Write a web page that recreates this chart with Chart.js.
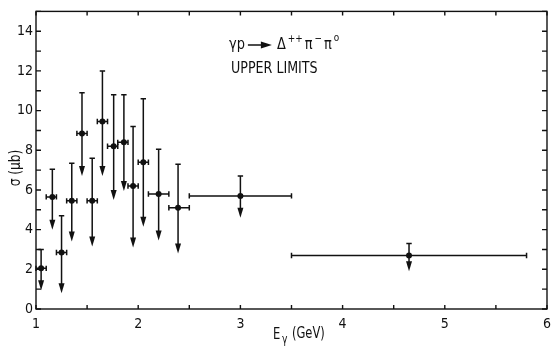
<!DOCTYPE html>
<html>
<head>
<meta charset="utf-8">
<script src="https://cdn.jsdelivr.net/npm/chart.js@4.4.0/dist/chart.umd.min.js"></script>
<style>
  html, body { margin: 0; padding: 0; background: #fff; }
</style>
</head>
<body>
<canvas id="sigmaChart" width="558" height="347"></canvas>
<script>
// photon energy of each point (GeV) and the edges of its energy bin
var energy  = [1.05, 1.16, 1.25, 1.35, 1.45, 1.55, 1.65, 1.76, 1.86, 1.95, 2.05, 2.20, 2.39, 3.00, 4.65];
var binLow  = [1.00, 1.10, 1.20, 1.30, 1.40, 1.50, 1.60, 1.70, 1.80, 1.90, 2.00, 2.10, 2.30, 2.50, 3.50];
var binHigh = [1.10, 1.20, 1.30, 1.40, 1.50, 1.60, 1.70, 1.80, 1.90, 2.00, 2.10, 2.30, 2.50, 3.50, 5.80];
// cross section (microbarn), top of the error bar, tip of the arrow
var sigma    = [2.05, 5.65, 2.85, 5.45, 8.85, 5.45, 9.45, 8.20, 8.40, 6.20, 7.40, 5.80, 5.10, 5.70, 2.70];
var upperEnd = [3.00, 7.05, 4.70, 7.35, 10.9, 7.60, 12.0, 10.8, 10.8, 9.20, 10.6, 8.05, 7.30, 6.70, 3.30];
var arrowEnd = [0.95, 4.00, 0.80, 3.40, 6.70, 3.15, 6.70, 5.50, 5.95, 3.10, 4.15, 3.45, 2.80, 4.60, 1.90];

var xTickLabels = [1, 2, 3, 4, 5, 6];
var yTickLabels = [0, 2, 4, 6, 8, 10, 12, 14];

var ink = '#111111';
var fontFam = '"Liberation Sans Narrow", "DejaVu Sans Condensed", "Liberation Sans", sans-serif';

// narrow text, a bit like the typewriter lettering on the original
function narrowText(ctx, str, x, y, size, squeeze) {
    ctx.save();
    ctx.font = size + 'px ' + fontFam;
    ctx.translate(x, y);
    ctx.scale(squeeze, 1);
    ctx.fillText(str, 0, 0);
    var w = ctx.measureText(str).width * squeeze;
    ctx.restore();
    return w;
}

// error bars with caps and down arrows
var errorBars = {
    id: 'errorBars',
    beforeDatasetsDraw: function(chart) {
        var ctx = chart.ctx, xs = chart.scales.x, ys = chart.scales.y;
        ctx.save();
        ctx.strokeStyle = ink;
        ctx.fillStyle = ink;
        ctx.lineWidth = 1.5;
        for (var i = 0; i < energy.length; i++) {
            var px = xs.getPixelForValue(energy[i]);
            var py = ys.getPixelForValue(sigma[i]);
            var x0 = xs.getPixelForValue(binLow[i]);
            var x1 = xs.getPixelForValue(binHigh[i]);
            var yTop = ys.getPixelForValue(upperEnd[i]);
            var yTip = ys.getPixelForValue(arrowEnd[i]);
            ctx.beginPath();
            ctx.moveTo(x0, py); ctx.lineTo(x1, py);
            ctx.moveTo(x0, py - 2.7); ctx.lineTo(x0, py + 2.7);
            ctx.moveTo(x1, py - 2.7); ctx.lineTo(x1, py + 2.7);
            ctx.moveTo(px - 2.7, yTop); ctx.lineTo(px + 2.7, yTop);
            ctx.moveTo(px, yTop); ctx.lineTo(px, yTip - 6);
            ctx.stroke();
            ctx.beginPath();
            ctx.moveTo(px - 3, yTip - 10);
            ctx.lineTo(px + 3, yTip - 10);
            ctx.lineTo(px, yTip);
            ctx.closePath();
            ctx.fill();
        }
        ctx.restore();
    }
};

// frame, inward ticks and the text
var frameAndText = {
    id: 'frameAndText',
    afterDraw: function(chart) {
        var ctx = chart.ctx, a = chart.chartArea;
        var xs = chart.scales.x, ys = chart.scales.y;
        ctx.save();
        ctx.strokeStyle = ink;
        ctx.lineWidth = 1.4;
        ctx.strokeRect(a.left, a.top, a.right - a.left, a.bottom - a.top);
        ctx.beginPath();
        xs.ticks.forEach(function(t) {
            var p = xs.getPixelForValue(t.value);
            ctx.moveTo(p, a.bottom); ctx.lineTo(p, a.bottom - 4);
            ctx.moveTo(p, a.top); ctx.lineTo(p, a.top + 4);
        });
        ys.ticks.forEach(function(t) {
            var p = ys.getPixelForValue(t.value);
            ctx.moveTo(a.left, p); ctx.lineTo(a.left + 5, p);
            ctx.moveTo(a.right, p); ctx.lineTo(a.right - 5, p);
        });
        ctx.stroke();

        ctx.fillStyle = ink;
        ctx.textBaseline = 'alphabetic';
        ctx.textAlign = 'left';

        // reaction label
        var x = 229, base = 49;
        x += narrowText(ctx, 'γp', x, base, 16, 0.9) + 3;
        ctx.lineWidth = 1.5;
        ctx.beginPath();
        ctx.moveTo(x, base - 4); ctx.lineTo(x + 16, base - 4); ctx.stroke();
        ctx.beginPath();
        ctx.moveTo(x + 13, base - 7.5); ctx.lineTo(x + 24, base - 4); ctx.lineTo(x + 13, base - 0.5);
        ctx.closePath(); ctx.fill();
        x += 29;
        var parts = [['Δ', 16, 0], ['++', 11, -7], ['π', 16, 0], ['−', 11, -7], ['π', 16, 0], ['o', 11, -8]];
        parts.forEach(function(p) {
            x += narrowText(ctx, p[0], x, base + p[2], p[1], 0.9) + 2;
        });
        narrowText(ctx, 'UPPER LIMITS', 231, 73, 16, 0.88);

        // x title
        narrowText(ctx, 'E', 273, 339, 16, 0.8);
        narrowText(ctx, 'γ', 282, 343, 12, 0.85);
        narrowText(ctx, '(GeV)', 292, 338, 15, 0.85);

        // y title
        ctx.translate(20, 168);
        ctx.rotate(-Math.PI / 2);
        ctx.textAlign = 'center';
        narrowText(ctx, 'σ (μb)', 0, 0, 16, 0.85);
        ctx.restore();
    }
};

var ctx = document.getElementById('sigmaChart').getContext('2d');
var sigmaChart = new Chart(ctx, {
    type: 'scatter',
    data: {
        datasets: [{
            data: energy.map(function(e, i) { return { x: e, y: sigma[i] }; }),
            pointRadius: 3,
            pointBackgroundColor: ink,
            pointBorderWidth: 0
        }]
    },
    options: {
        responsive: false,
        animation: false,
        devicePixelRatio: 1,
        layout: { autoPadding: false, padding: { top: 1, right: 2, left: 0, bottom: 0 } },
        plugins: { legend: { display: false }, tooltip: { enabled: false } },
        scales: {
            x: {
                type: 'linear', min: 1, max: 6,
                grid: { display: false, drawTicks: false },
                border: { display: false },
                ticks: {
                    stepSize: 0.5, padding: 7, color: ink, maxRotation: 0, autoSkip: false,
                    font: { family: fontFam, size: 14 },
                    callback: function(v) { return xTickLabels.indexOf(v) >= 0 ? String(v) : ''; }
                },
                afterFit: function(s) { s.height = 38; }
            },
            y: {
                min: 0, max: 15,
                grid: { display: false, drawTicks: false },
                border: { display: false },
                ticks: {
                    stepSize: 1, padding: 3, color: ink, autoSkip: false,
                    font: { family: fontFam, size: 14 },
                    callback: function(v) { return yTickLabels.indexOf(v) >= 0 ? String(v) : ''; }
                },
                afterFit: function(s) { s.width = 36; }
            }
        }
    },
    plugins: [errorBars, frameAndText]
});
</script>
</body>
</html>
